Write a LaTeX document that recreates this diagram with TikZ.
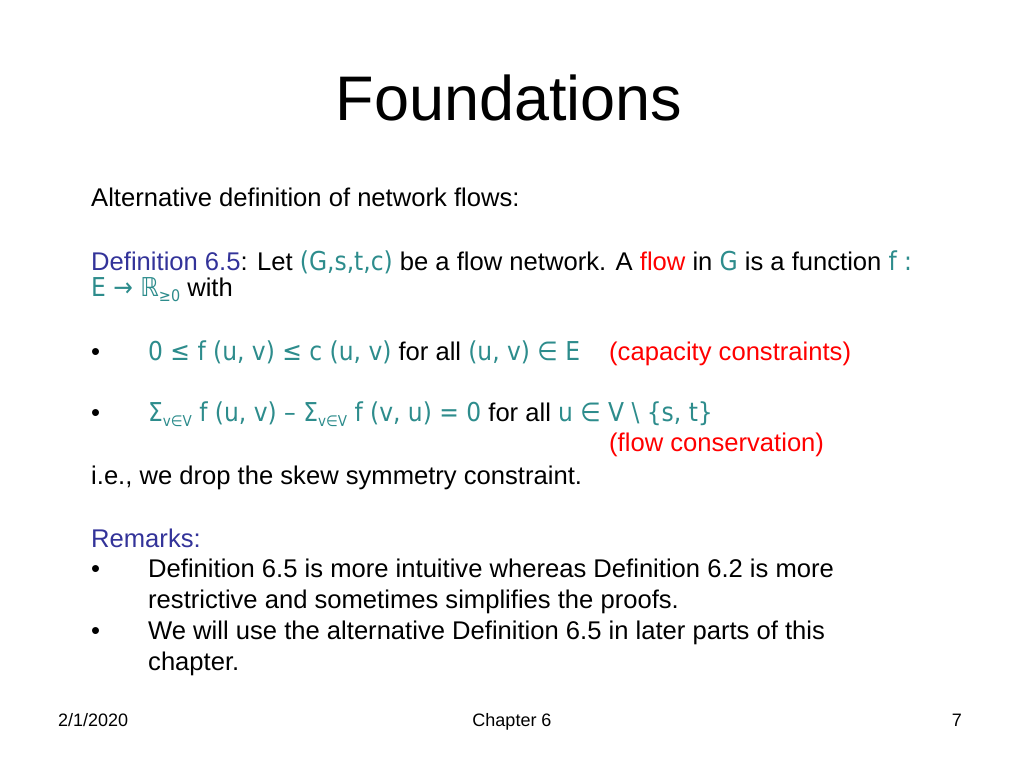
\documentclass[tikz,border=0pt]{standalone}
\usepackage{fontspec}
\setmainfont{Liberation Sans}
\newfontfamily\mfont{DejaVu Sans Condensed}
\definecolor{teal1}{RGB}{45,140,140}
\definecolor{blue1}{RGB}{51,51,153}
\definecolor{red1}{RGB}{255,0,0}
\newcommand{\tm}[1]{{\color{teal1}\mfont\fontsize{26}{28}\selectfont #1}}
\begin{document}
\begin{tikzpicture}[x=1pt,y=-1pt,
  txt/.style={anchor=base west,inner sep=0,font=\fontsize{25.6}{30}\selectfont},
  foot/.style={inner sep=0,font=\fontsize{18}{21}\selectfont}]
\useasboundingbox (0,0) rectangle (1024,768);
\node[inner sep=0,anchor=base,font=\fontsize{63}{70}\selectfont] (title) at (509,120) {Foundations};
\node[txt] (l1) at (91,206) {Alternative definition of network flows:};
\node[txt] (l2) at (91,270) {{\color{blue1}Definition 6.5}: Let \tm{(G,s,t,c)} be a flow network. A {\color{red1}flow} in \tm{G} is a function \tm{f :}};
\node[txt] (l3) at (91,296) {\tm{E → ℝ\raisebox{-5pt}{\fontsize{16}{16}\selectfont ≥0}} with};
\node[txt] (b1) at (91,360) {•};
\node[txt] (m1) at (148,360) {\tm{0 ≤ f (u, v) ≤ c (u, v)} for all \tm{(u, v) ∈ E}};
\node[txt] (c1) at (609,360) {\color{red1}(capacity constraints)};
\node[txt] (b2) at (91,421) {•};
\node[txt] (m2) at (148,421) {\tm{Σ\raisebox{-5pt}{\fontsize{15}{15}\selectfont v∈V} f (u, v) – Σ\raisebox{-5pt}{\fontsize{15}{15}\selectfont v∈V} f (v, u) = 0} for all \tm{u ∈ V \textbackslash\ \{s, t\}}};
\node[txt] (c2) at (609,451) {\color{red1}(flow conservation)};
\node[txt] (l4) at (91,484) {i.e., we drop the skew symmetry constraint.};
\node[txt] (r0) at (91,547) {\color{blue1}Remarks:};
\node[txt] (b3) at (91,577) {•};
\node[txt] (r1) at (148,577) {Definition 6.5 is more intuitive whereas Definition 6.2 is more};
\node[txt] (r1b) at (148,608) {restrictive and sometimes simplifies the proofs.};
\node[txt] (b4) at (91,639) {•};
\node[txt] (r2) at (148,639) {We will use the alternative Definition 6.5 in later parts of this};
\node[txt] (r2b) at (148,670) {chapter.};
\node[foot,anchor=base west] (d) at (58,726) {2/1/2020};
\node[foot,anchor=base] (ch) at (512,726) {Chapter 6};
\node[foot,anchor=base east] (pg) at (962,726) {7};
\end{tikzpicture}
\end{document}
